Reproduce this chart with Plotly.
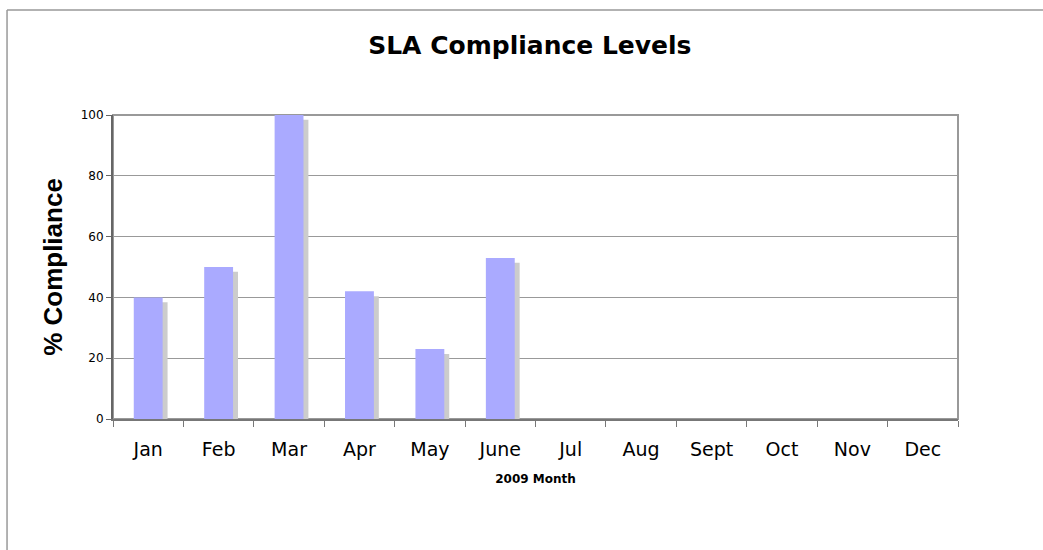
import plotly.graph_objects as go

months = ["Jan", "Feb", "Mar", "Apr", "May", "June", "Jul", "Aug", "Sept", "Oct", "Nov", "Dec"]
compliance = [40, 50, 100, 42, 23, 53, None, None, None, None, None, None]
y_ticks = [0, 20, 40, 60, 80, 100]

BAR_W = 0.41
SHADOW_DX = 0.07   # shadow shift right (category units)
SHADOW_DY = -1.6   # shadow shift down (value units)

fig = go.Figure()
fig.add_trace(go.Bar(
    x=months, y=compliance, base=SHADOW_DY,
    width=BAR_W, offset=-BAR_W / 2 + SHADOW_DX,
    marker=dict(color="#cccccc", line=dict(width=0)),
    hoverinfo="skip", showlegend=False,
))
fig.add_trace(go.Bar(
    x=months, y=compliance,
    width=BAR_W, offset=-BAR_W / 2,
    marker=dict(color="#aaaaff", line=dict(width=0)),
    name="% Compliance", showlegend=False,
))

fig.update_layout(
    width=1043, height=550,
    margin=dict(l=113, r=85, t=115, b=131),
    paper_bgcolor="white", plot_bgcolor="white",
    barmode="overlay",
    title=dict(text="<b>SLA Compliance Levels</b>", x=0.508, xanchor="center",
               y=0.918, yanchor="middle",
               font=dict(family="DejaVu Sans", size=25, color="black")),
    xaxis=dict(
        categoryorder="array", categoryarray=months,
        tickson="boundaries", ticks="outside", ticklen=6, tickcolor="#777",
        tickwidth=1,
        showline=True, linecolor="#777", linewidth=2,
        showgrid=False,
        ticklabelstandoff=12,
        tickfont=dict(family="DejaVu Sans", size=19, color="black"),
        title=dict(text="<b>2009 Month</b>", standoff=16,
                   font=dict(family="DejaVu Sans", size=12, color="black")),
    ),
    yaxis=dict(
        range=[0, 100], tickvals=y_ticks,
        ticks="outside", ticklen=5, tickcolor="#666", tickwidth=1,
        showline=True, linecolor="#666", linewidth=2,
        showgrid=True, gridcolor="#999", gridwidth=1,
        zeroline=False,
        tickfont=dict(family="DejaVu Sans", size=12, color="black"),
        title=dict(text="<b>% Compliance</b>", standoff=11,
                   font=dict(family="Liberation Sans", size=26, color="black")),
    ),
    shapes=[
        dict(type="rect", xref="paper", yref="paper", x0=0, x1=1, y0=0, y1=1,
             line=dict(color="#999", width=2), layer="below"),
        dict(type="line", xref="paper", yref="paper", x0=-0.1254, x1=1.2, y0=1.345, y1=1.345,
             line=dict(color="#999", width=1.5)),
        dict(type="line", xref="paper", yref="paper", x0=-0.1254, x1=-0.1254, y0=1.345, y1=-0.5,
             line=dict(color="#999", width=1.5)),
    ],
)

fig.write_html("out.html", config={"displayModeBar": False},
               post_script="document.body.style.margin='0px';")
